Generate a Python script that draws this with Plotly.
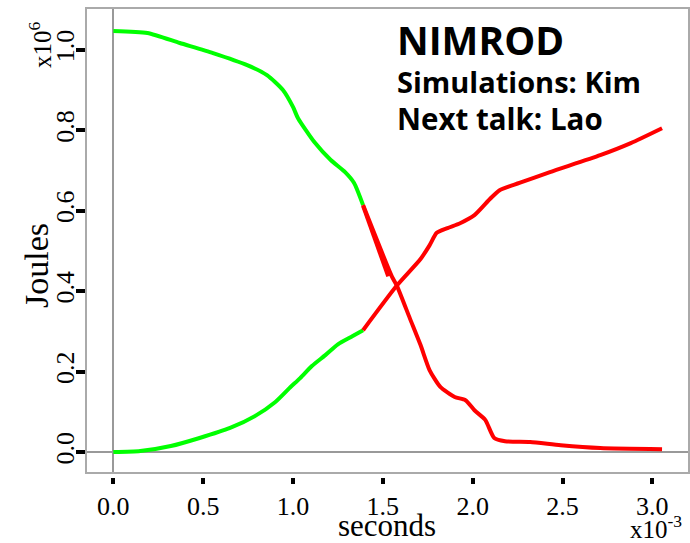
import plotly.graph_objects as go

# ---- data (time in units of 1e-3 s, energy in units of 1e6 J) ----
t_green_top = [0, 0.19, 0.37, 0.555, 0.745, 0.855, 0.944, 1.0, 1.028, 1.12, 1.21, 1.29, 1.34, 1.39]
e_green_top = [1.047, 1.042, 1.017, 0.992, 0.962, 0.937, 0.900, 0.858, 0.830, 0.77, 0.726, 0.696, 0.669, 0.614]

t_red_top = [1.39, 1.55, 1.578, 1.65, 1.71, 1.76, 1.82, 1.90, 1.96, 2.01, 2.07, 2.12, 2.18, 2.32, 2.49, 2.71, 3.054]
e_red_top = [0.614, 0.437, 0.414, 0.333, 0.266, 0.204, 0.162, 0.137, 0.129, 0.104, 0.08, 0.035, 0.027, 0.025, 0.017, 0.01, 0.007]

t_red_wedge = [1.39, 1.53]
e_red_wedge = [0.612, 0.437]

t_green_bot = [0, 0.15, 0.32, 0.48, 0.65, 0.79, 0.9, 0.98, 1.04, 1.105, 1.18, 1.25, 1.33, 1.39]
e_green_bot = [0, 0.0025, 0.015, 0.035, 0.06, 0.09, 0.124, 0.159, 0.184, 0.214, 0.241, 0.268, 0.288, 0.303]

t_red_bot = [1.39, 1.578, 1.71, 1.76, 1.80, 1.86, 1.93, 2.01, 2.10, 2.15, 2.26, 2.43, 2.71, 2.88, 3.054]
e_red_bot = [0.303, 0.414, 0.48, 0.514, 0.545, 0.557, 0.569, 0.589, 0.631, 0.651, 0.669, 0.696, 0.738, 0.768, 0.805]

x_ticks = [0, 0.5, 1.0, 1.5, 2.0, 2.5, 3.0]
y_ticks = [0, 0.2, 0.4, 0.6, 0.8, 1.0]

GREEN = "#00FF00"
RED = "#FF0000"
LW = 4

W, H = 690, 543
ML, MR, MT, MB = 86, 1, 8, 66
PW, PH = W - ML - MR, H - MT - MB


def px(xp):
    return (xp - ML) / PW


def py(yp):
    return (H - MB - yp) / PH


fig = go.Figure()
for xs, ys, c in [(t_green_top, e_green_top, GREEN), (t_green_bot, e_green_bot, GREEN),
                  (t_red_top, e_red_top, RED), (t_red_wedge, e_red_wedge, RED),
                  (t_red_bot, e_red_bot, RED)]:
    fig.add_trace(go.Scatter(x=xs, y=ys, mode="lines",
                             line=dict(color=c, width=LW, shape="spline", smoothing=0.6),
                             showlegend=False, hoverinfo="skip"))

tickfont = dict(family="Liberation Serif", size=26, color="black")
fig.update_layout(
    width=W, height=H,
    margin=dict(l=ML, r=MR, t=MT, b=MB, pad=0),
    plot_bgcolor="white", paper_bgcolor="white",
    xaxis=dict(range=[-0.152, 3.204], tickvals=x_ticks, tickformat=".1f",
               anchor="free", position=0, showline=False, showgrid=False,
               zeroline=True, zerolinecolor="#999999", zerolinewidth=1.5,
               ticks="outside", ticklen=6, tickwidth=4, tickcolor="black",
               tickfont=tickfont),
    yaxis=dict(range=[-0.052, 1.104], tickvals=y_ticks, tickformat=".1f",
               domain=[py(473), 1], showline=False, showgrid=False,
               zeroline=True, zerolinecolor="#999999", zerolinewidth=1.5,
               ticks="outside", ticklen=9, tickwidth=4, tickcolor="black",
               tickangle=-90, tickfont=tickfont, ticklabelstandoff=-8),
    shapes=[dict(type="rect", xref="x domain", yref="y domain", x0=0, x1=1, y0=0, y1=1,
                 line=dict(color="#aaaaaa", width=2), layer="above")],
)

ann = [
    dict(text="Joules", x=px(36), y=py(266), textangle=-90,
         font=dict(family="Liberation Serif", size=34, color="black")),
    dict(text="seconds", x=px(387), y=py(525),
         font=dict(family="Liberation Serif", size=31, color="black")),
    dict(text="x10<sup>6</sup>", x=px(40), y=py(45), textangle=-90,
         font=dict(family="Liberation Serif", size=25, color="black")),
    dict(text="x10<sup>-3</sup>", x=px(656), y=py(527),
         font=dict(family="Liberation Serif", size=25, color="black")),
    dict(text="<b>NIMROD</b>", x=px(395), y=py(39), xanchor="left",
         font=dict(family="Open Sans", size=39, color="black")),
    dict(text="<b>Simulations: Kim</b>", x=px(395), y=py(81), xanchor="left",
         font=dict(family="Open Sans", size=29, color="black")),
    dict(text="<b>Next talk: Lao</b>", x=px(395), y=py(119), xanchor="left",
         font=dict(family="Open Sans", size=29.5, color="black")),
]
for a in ann:
    a.update(xref="paper", yref="paper", showarrow=False)
    a.setdefault("xanchor", "center")
    a.setdefault("yanchor", "middle")
fig.update_layout(annotations=ann)

fig.write_html("out.html")
